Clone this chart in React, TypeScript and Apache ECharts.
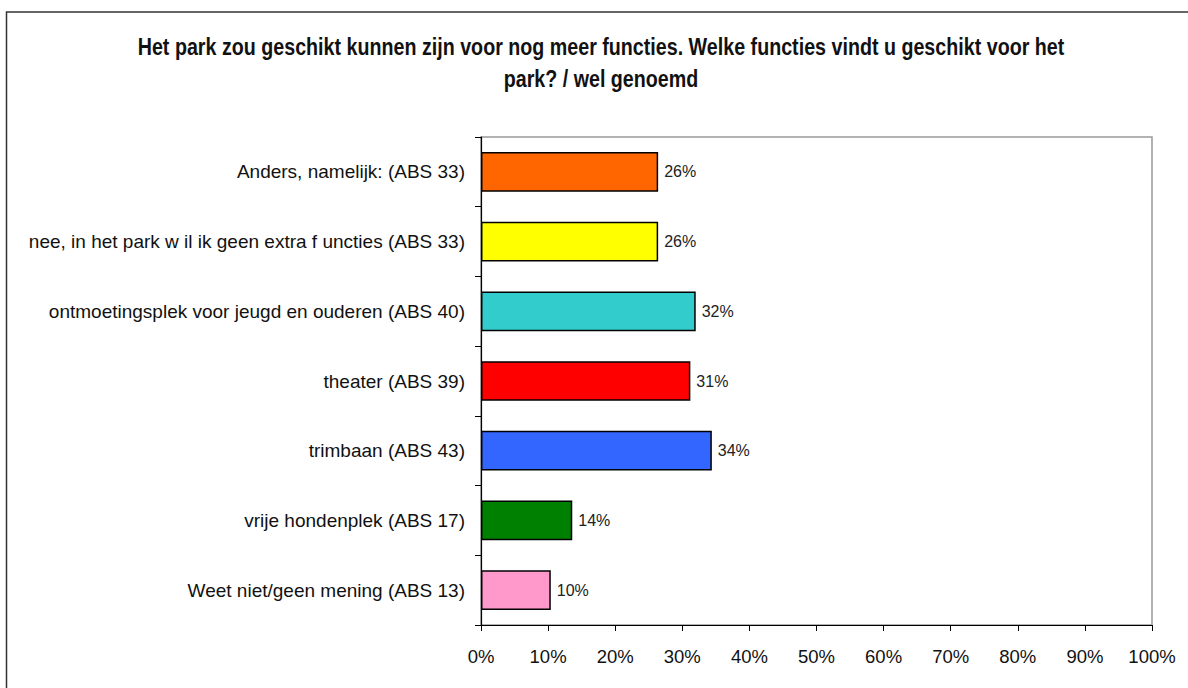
import React, { useEffect, useRef } from "react";
import * as echarts from "echarts";

const categories = [
  "Anders, namelijk: (ABS 33)",
  "nee, in het park w il ik geen extra f uncties (ABS 33)",
  "ontmoetingsplek voor jeugd en ouderen (ABS 40)",
  "theater (ABS 39)",
  "trimbaan (ABS 43)",
  "vrije hondenplek (ABS 17)",
  "Weet niet/geen mening (ABS 13)",
];
const values = [26.4, 26.4, 32.0, 31.2, 34.4, 13.6, 10.4];
const colors = ["#FF6600", "#FFFF00", "#33CCCC", "#FF0000", "#3366FF", "#008000", "#FF99CC"];
const titleLines = [
  "Het park zou geschikt kunnen zijn voor nog meer functies. Welke functies vindt u geschikt voor het",
  "park? / wel genoemd",
];

export default function App() {
  const ref = useRef<HTMLDivElement>(null);
  useEffect(() => {
    if (!ref.current) return;
    const chart = echarts.init(ref.current, null, { renderer: "svg" });
    chart.setOption({
      animation: false,
      backgroundColor: "#ffffff",
      graphic: [
        {
          type: "rect",
          shape: { x: 6.5, y: 12, width: 1200, height: 700 },
          style: { fill: "none", stroke: "#333", lineWidth: 1.5 },
          silent: true,
        },
        ...titleLines.map((t, i) => ({
          type: "text",
          x: 601,
          y: 46.5 + i * 32,
          scaleX: 0.82,
          silent: true,
          style: {
            text: t,
            fontFamily: "'Liberation Sans', Arial, sans-serif",
            fontWeight: "bold",
            fontSize: 24,
            fill: "#111",
            align: "center",
            verticalAlign: "middle",
          },
        })),
      ],
      grid: {
        left: 481,
        right: 36,
        top: 137,
        bottom: 63,
        show: true,
        borderColor: "#999",
        borderWidth: 1.5,
        backgroundColor: "transparent",
      },
      xAxis: {
        type: "value",
        min: 0,
        max: 100,
        interval: 10,
        splitLine: { show: false },
        axisLine: { show: true, lineStyle: { color: "#000", width: 1.2 } },
        axisTick: { show: true, length: 6, lineStyle: { color: "#000" } },
        axisLabel: {
          formatter: "{value}%",
          fontFamily: "'Liberation Sans', Arial, sans-serif",
          fontSize: 18.5,
          color: "#111",
          margin: 22,
        },
      },
      yAxis: {
        type: "category",
        data: categories,
        inverse: true,
        axisLine: { show: true, lineStyle: { color: "#000", width: 1.2 } },
        axisTick: { show: true, length: 6, lineStyle: { color: "#000" } },
        axisLabel: {
          fontFamily: "'Liberation Sans', Arial, sans-serif",
          fontSize: 19,
          color: "#111",
          margin: 16,
        },
      },
      series: [
        {
          type: "bar",
          data: values.map((v, i) => ({ value: v, itemStyle: { color: colors[i] } })),
          barWidth: "57%",
          itemStyle: { borderColor: "#000", borderWidth: 1.5 },
          label: {
            show: true,
            position: "right",
            distance: 6,
            formatter: (p: any) => Math.round(p.value) + "%",
            fontFamily: "'Liberation Sans', Arial, sans-serif",
            fontSize: 16,
            color: "#222",
          },
        },
      ],
    });
    return () => chart.dispose();
  }, []);
  return (
    <div
      ref={ref}
      style={{ position: "absolute", left: 0, top: 0, width: 1188, height: 688 }}
    />
  );
}
